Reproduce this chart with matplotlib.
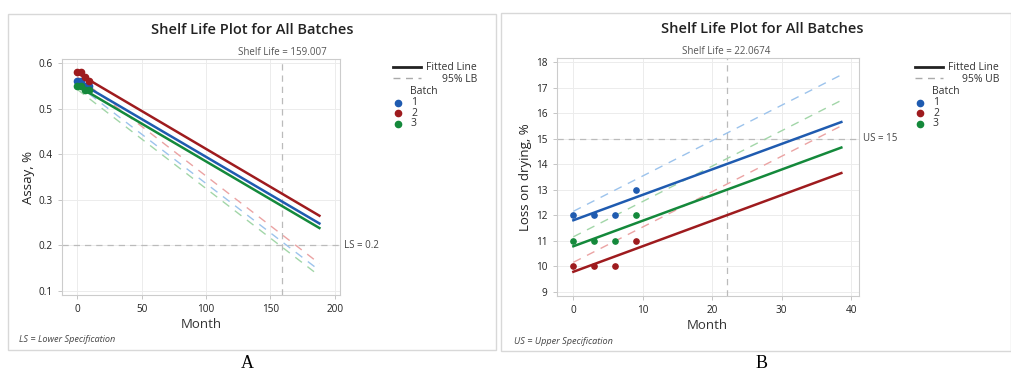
import numpy as np
import matplotlib
matplotlib.use("Agg")
import matplotlib.pyplot as plt
from matplotlib.lines import Line2D
from matplotlib.patches import Rectangle

plt.rcParams["font.family"] = ["Open Sans", "DejaVu Sans"]

# ---- data ----
batches = ["1", "2", "3"]
colors = ["#1f5bb0", "#9e1b1e", "#14893b"]
light = ["#9cc3ec", "#eba3a3", "#a2d6a8"]

# panel A: assay
months_a = [0, 3, 6, 9]
assay = [
    [0.56, 0.56, 0.55, 0.55],
    [0.58, 0.58, 0.57, 0.56],
    [0.55, 0.55, 0.54, 0.54],
]
line_x_a = [0, 188]
fit_a = [[0.560, 0.248], [0.578, 0.265], [0.550, 0.238]]
lb_a = [[0.552, 0.145], [0.570, 0.160], [0.542, 0.133]]
shelf_a = 159.007
spec_a = 0.2

# panel B: loss on drying
months_b = [0, 3, 6, 9]
lod = [
    [12, 12, 12, 13],
    [10, 10, 10, 11],
    [11, 11, 11, 12],
]
line_x_b = [0, 38.6]
fit_b = [[11.8, 15.65], [9.78, 13.65], [10.78, 14.65]]
ub_b = [[12.15, 17.5], [10.15, 15.5], [11.15, 16.5]]
shelf_b = 22.0674
spec_b = 15

W, H = 1012, 373
fig = plt.figure(figsize=(W / 100, H / 100), dpi=100)


def px(x, y):
    return x / W, 1 - y / H


def frame(x0, y0, x1, y1):
    fig.patches.append(Rectangle(px(x0, y1), (x1 - x0) / W, (y1 - y0) / H,
                                 transform=fig.transFigure, fill=False,
                                 edgecolor="#d8d8d8", lw=1.0))


def legend(x0, bound):
    fig.add_artist(Line2D([px(x0, 0)[0], px(x0 + 28, 0)[0]], [px(0, 67)[1]] * 2,
                          transform=fig.transFigure, color="#222222", lw=2))
    fig.add_artist(Line2D([px(x0, 0)[0], px(x0 + 28, 0)[0]], [px(0, 78)[1]] * 2,
                          transform=fig.transFigure, color="#aaaaaa", lw=1,
                          dashes=(5, 4)))
    fig.text(*px(x0 + 84, 68), "Fitted Line", ha="right", va="center", fontsize=7.5,
             color="#333333")
    fig.text(*px(x0 + 84, 79), "95% " + bound, ha="right", va="center", fontsize=7.5,
             color="#333333")
    fig.text(*px(x0 + 17, 92), "Batch", ha="left", va="center", fontsize=7.5,
             color="#333333")
    for i, b in enumerate(batches):
        yy = 102.5 + 10.5 * i
        fig.add_artist(Line2D([px(x0 + 5, 0)[0]], [px(0, yy)[1]], transform=fig.transFigure,
                              marker="o", ms=4.5, color=colors[i], lw=0))
        fig.text(*px(x0 + 18, yy), b, ha="left", va="center", fontsize=7.5,
                 color="#333333")


def panel(rect, months, vals, line_x, fit, bnd, shelf, spec, spec_lbl, xlim, ylim,
          xticks, yticks, ylabel, ms):
    ax = fig.add_axes(rect)
    for i in range(3):
        ax.plot(line_x, bnd[i], color=light[i], lw=1.0, dashes=(6, 5), zorder=2)
    for i in range(3):
        ax.plot(line_x, fit[i], color=colors[i], lw=1.8, zorder=3)
        ax.plot(months, vals[i], "o", color=colors[i], ms=ms, zorder=4)
    ax.axvline(shelf, color="#bbbbbb", lw=0.9, dashes=(5, 4), zorder=1)
    ax.axhline(spec, color="#bbbbbb", lw=0.9, dashes=(5, 4), zorder=1)
    ax.set_xlim(*xlim)
    ax.set_ylim(*ylim)
    ax.set_xticks(xticks)
    ax.set_yticks(yticks)
    ax.grid(True, color="#ececec", lw=0.7)
    ax.set_axisbelow(True)
    for s in ax.spines.values():
        s.set_color("#cccccc")
    ax.tick_params(labelsize=7.2, colors="#bbbbbb", labelcolor="#222222", length=3, width=0.6)
    ax.set_xlabel("Month", fontsize=9.5, color="#333333", labelpad=2)
    ax.set_ylabel(ylabel, fontsize=9.5, color="#222222", labelpad=3)
    ax.text(shelf, 1.005, "Shelf Life = %g" % shelf, transform=ax.get_xaxis_transform(),
            ha="center", va="bottom", fontsize=7, color="#555555")
    ax.text(1.015, spec, spec_lbl, transform=ax.get_yaxis_transform(), ha="left",
            va="center", fontsize=7, color="#444444")
    return ax


# panel A
frame(8, 14, 496, 350)
panel([px(62, 0)[0], px(0, 295)[1], 278 / W, 236 / H], months_a, assay, line_x_a,
      fit_a, lb_a, shelf_a, spec_a, "LS = 0.2", (-12, 204), (0.091, 0.609),
      [0, 50, 100, 150, 200], [0.1, 0.2, 0.3, 0.4, 0.5, 0.6], "Assay, %", 4.5)
fig.text(*px(252, 30), "Shelf Life Plot for All Batches", ha="center", va="center",
         fontsize=10.5, fontweight="semibold", color="#222222")
fig.text(*px(19, 340), "LS = Lower Specification", ha="left", va="center", fontsize=6.6,
         style="italic", color="#444444")
legend(393, "LB")
fig.text(*px(247, 364), "A", ha="center", va="center", fontsize=13,
         family="Liberation Serif")

# panel B
frame(501, 13, 1011, 351)
panel([px(556.7, 0)[0], px(0, 296)[1], 302 / W, 238 / H], months_b, lod, line_x_b,
      fit_b, ub_b, shelf_b, spec_b, "US = 15", (-2.4, 41.1), (8.83, 18.16),
      [0, 10, 20, 30, 40], list(range(9, 19)), "Loss on drying, %", 3.8)
fig.text(*px(762, 29), "Shelf Life Plot for All Batches", ha="center", va="center",
         fontsize=10.5, fontweight="semibold", color="#222222")
fig.text(*px(514, 341), "US = Upper Specification", ha="left", va="center", fontsize=6.6,
         style="italic", color="#444444")
legend(915, "UB")
fig.text(*px(762, 364), "B", ha="center", va="center", fontsize=13,
         family="Liberation Serif")

fig.savefig("out.png", dpi=100)
